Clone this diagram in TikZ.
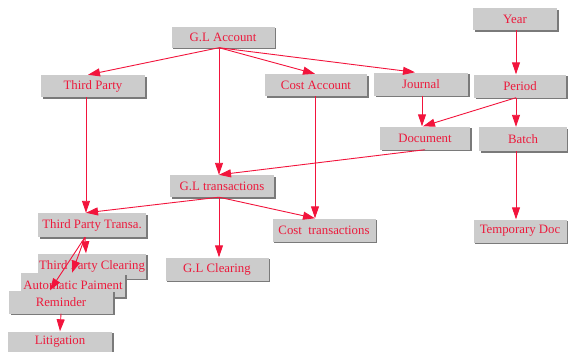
\documentclass[tikz,border=0pt]{standalone}
\usepackage{fontspec}
\setmainfont{Liberation Serif}
\usetikzlibrary{arrows.meta,shadows}
\definecolor{txtred}{HTML}{EC1A3C}
\definecolor{linered}{HTML}{F2143C}
\definecolor{boxgray}{HTML}{CCCCCC}
\definecolor{shadgray}{HTML}{7A7A7A}
\tikzset{
  box/.style={fill=boxgray, text=txtred, inner sep=0pt, font=\fontsize{12.8}{14}\selectfont,
    drop shadow={shadow xshift=1.5pt, shadow yshift=-1.5pt, fill=shadgray, opacity=1}},
  edge/.style={draw=linered, line width=0.9pt, -{Triangle[length=12pt,width=8pt]}}
}
\begin{document}
\begin{tikzpicture}[x=1pt,y=-1pt]
\useasboundingbox (0,0) rectangle (568,351);
\node[box, minimum width=103pt, minimum height=21pt] (glacc) at (223,37) {G.L Account};
\node[box, minimum width=84pt, minimum height=22pt] (year) at (515,19) {Year};
\node[box, minimum width=104pt, minimum height=22pt] (tp) at (93,86) {Third Party};
\node[box, minimum width=102pt, minimum height=22pt] (costacc) at (316,85) {Cost Account};
\node[box, minimum width=94pt, minimum height=23pt] (journal) at (421,84) {Journal};
\node[box, minimum width=92pt, minimum height=23pt] (period) at (520,86) {Period};
\node[box, minimum width=90pt, minimum height=23pt] (doc) at (425,138) {Document};
\node[box, minimum width=88pt, minimum height=24pt] (batch) at (523,139) {Batch};
\node[box, minimum width=104pt, minimum height=22pt] (gltr) at (222,186) {G.L transactions};
\node[box, minimum width=108pt, minimum height=24pt] (tpt) at (92,225) {Third Party Transa.};
\node[box, minimum width=103pt, minimum height=23pt] (costtr) at (324,230) {Cost\ \ transactions};
\node[box, minimum width=93pt, minimum height=23pt] (tempdoc) at (520,231) {Temporary Doc};
\node[box, minimum width=108pt, minimum height=25pt] (tpc) at (92,266) {Third Party Clearing};
\node[box, minimum width=103pt, minimum height=23pt] (glclr) at (217,269) {G.L Clearing};
\node[box, minimum width=104pt, minimum height=24pt] (autopay) at (73,285) {Automatic Paiment};
\node[box, minimum width=104pt, minimum height=23pt] (reminder) at (61,302) {Reminder};
\node[box, minimum width=104pt, minimum height=21pt] (litig) at (60,342) {Litigation};

\draw[edge] ([xshift=-4pt]glacc.south) -- ([xshift=-5pt]tp.north);
\draw[edge] ([xshift=-4pt]glacc.south) -- ([xshift=-3pt]gltr.north);
\draw[edge] ([xshift=-4pt]glacc.south) -- ([xshift=-1pt]costacc.north);
\draw[edge] ([xshift=-4pt]glacc.south) -- ([xshift=-6pt]journal.north);
\draw[edge] ([xshift=1pt]year.south) -- ([xshift=-4pt]period.north);
\draw[edge] ([xshift=1pt]journal.south) -- ([xshift=-3pt]doc.north);
\draw[edge] ([xshift=-4pt]period.south) -- ([xshift=-2pt]doc.north);
\draw[edge] ([xshift=-4pt]period.south) -- ([xshift=-7pt]batch.north);
\draw[edge] ([xshift=-7pt]batch.south) -- ([xshift=-4pt]tempdoc.north);
\draw[edge] ([xshift=-1pt]costacc.south) -- ([xshift=-9pt]costtr.north);
\draw[edge] ([xshift=0pt]doc.south) -- ([xshift=-3pt]gltr.north);
\draw[edge] ([xshift=-7pt]tp.south) -- ([xshift=-6pt]tpt.north);
\draw[edge] ([xshift=-3pt]gltr.south) -- ([xshift=-6pt]tpt.north);
\draw[edge] ([xshift=-3pt]gltr.south) -- ([xshift=-9pt]costtr.north);
\draw[edge] ([xshift=-3pt]gltr.south) -- ([xshift=2pt]glclr.north);
\draw[edge] ([xshift=-7pt]tpt.south) -- ([xshift=-6pt]tpc.north);
\draw[edge] ([xshift=-7pt]tpt.south) -- ([xshift=-1pt]autopay.north);
\draw[edge] ([xshift=-7pt]tpt.south) -- ([xshift=-11pt]reminder.north);
\draw[edge] (reminder.south) -- (litig.north);
\end{tikzpicture}
\end{document}
